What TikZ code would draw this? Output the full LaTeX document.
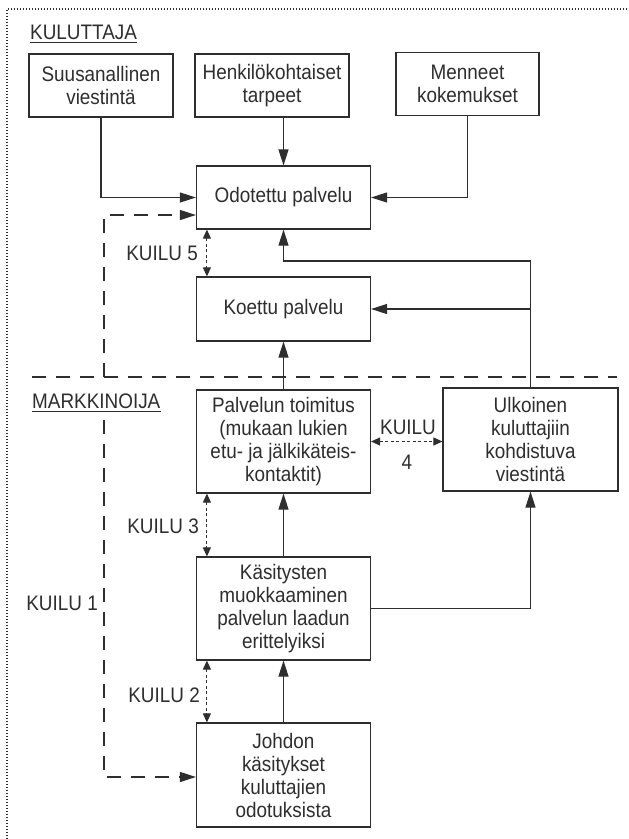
\documentclass[tikz,border=0pt]{standalone}
\usepackage{fontspec}
\setmainfont{Liberation Sans}[FakeStretch=0.9]
\usetikzlibrary{arrows.meta,calc}
\definecolor{ink}{HTML}{2E2E2E}

\begin{document}
\begin{tikzpicture}[x=1pt,y=-1pt,
  every node/.style={text=ink, font=\fontsize{21}{23}\selectfont},
  box/.style={draw=ink, line width=1.2pt, rectangle, align=center, inner sep=0pt},
  tip/.style={-{Triangle[length=16pt,width=10pt]}},
  arr/.style={draw=ink, line width=1.1pt, tip},
  dashline/.style={draw=ink, line width=1.3pt, dash pattern=on 14pt off 10pt},
  dasharr/.style={dashline, tip},
  gaparr/.style={draw=ink, line width=1pt, dash pattern=on 3pt off 2.5pt,
    {Triangle[length=9pt,width=8pt]}-{Triangle[length=9pt,width=8pt]}},
  lbl/.style={inner sep=0pt},
  uline/.style={draw=ink, line width=1pt},
]
% page
\fill[white] (0,0) rectangle (629,839);
\useasboundingbox (0,0) rectangle (629,839);

% dotted frame (left and top)
\draw[ink, line width=1.3pt, dash pattern=on 1.2pt off 1.8pt] (7,839) -- (7,9) -- (629,9);

% section headings
\node[lbl, anchor=base west] (kul) at (30,39) {KULUTTAJA};
\draw[uline] ($(kul.base west)+(0,3.5)$) -- ($(kul.base east)+(0,3.5)$);
\node[lbl, anchor=base west] (mark) at (32,408) {MARKKINOIJA};
\draw[uline] ($(mark.base west)+(0,3.5)$) -- ($(mark.base east)+(0,3.5)$);

% consumer side
\node[box, minimum width=144pt, minimum height=63pt] (suus) at (101,85.5) {Suusanallinen\\viestintä};
\node[box, minimum width=154pt, minimum height=63pt] (henk) at (272,85.5) {Henkilökohtaiset\\tarpeet};
\node[box, minimum width=143pt, minimum height=63pt] (menn) at (467.5,84) {Menneet\\kokemukset};
\node[box, minimum width=174pt, minimum height=63pt] (odot) at (283.5,197.5) {Odotettu palvelu};
\node[box, minimum width=174pt, minimum height=64pt] (koet) at (283.5,309) {Koettu palvelu};

% marketer side
\node[box, minimum width=174pt, minimum height=103pt] (palv) at (283.5,441.5) {Palvelun toimitus\\(mukaan lukien\\etu- ja jälkikäteis-\\kontaktit)};
\node[box, minimum width=175pt, minimum height=103pt] (ulko) at (530.5,439.5) {Ulkoinen\\kuluttajiin\\kohdistuva\\viestintä};
\node[box, minimum width=174pt, minimum height=103pt] (kasi) at (283.5,608.5) {Käsitysten\\muokkaaminen\\palvelun laadun\\erittelyiksi};
\node[box, minimum width=174pt, minimum height=104pt] (joh) at (283.5,775) {Johdon\\käsitykset\\kuluttajien\\odotuksista};

% gap labels
\node[lbl, anchor=east] (k5) at (198,253) {KUILU 5};
\node[lbl, anchor=east] (k3) at (199,526) {KUILU 3};
\node[lbl, anchor=east] (k2) at (200,695) {KUILU 2};
\node[lbl, anchor=east] (k1) at (98,603) {KUILU 1};
\node[lbl] (k4a) at (408,427) {KUILU};
\node[lbl] (k4b) at (407,462) {4};

% solid flows
\draw[arr] (suus.south) |- (odot.west);
\draw[arr] (menn.south) |- (odot.east);
\draw[arr] (henk.south -| odot.north) -- (odot.north);
\coordinate (u1) at (ulko.north |- 0,261);
\draw[arr] (ulko.north) -- (u1) -| (odot.south);
\draw[arr] (ulko.north |- koet.east) -- (koet.east);
\draw[arr] (palv.north) -- (koet.south);
\draw[arr] (kasi.north) -- (palv.south);
\draw[arr] (joh.north) -- (kasi.south);
\draw[arr] (kasi.east) -| (ulko.south);

% boundary between consumer and marketer
\coordinate (dL) at (32,377);
\coordinate (dR) at (617,377);
\draw[dashline] (dL) -- (dR);
\coordinate (d1) at (104,377);
\coordinate (odin) at (odot.west |- 0,215);
\draw[dasharr] (d1) |- (odin);
\coordinate (k1top) at (104,420);
\coordinate (jin) at (joh.west |- 0,777);
\draw[dasharr] (k1top) |- (jin);

% gaps
\draw[gaparr] ([xshift=11pt]odot.south west) -- ([xshift=11pt]koet.north west);
\draw[gaparr] ([xshift=11pt]palv.south west) -- ([xshift=11pt]kasi.north west);
\draw[gaparr] ([xshift=11pt]kasi.south west) -- ([xshift=11pt]joh.north west);
\draw[gaparr] (palv.east) -- (palv.east -| ulko.west);
\end{tikzpicture}
\end{document}
